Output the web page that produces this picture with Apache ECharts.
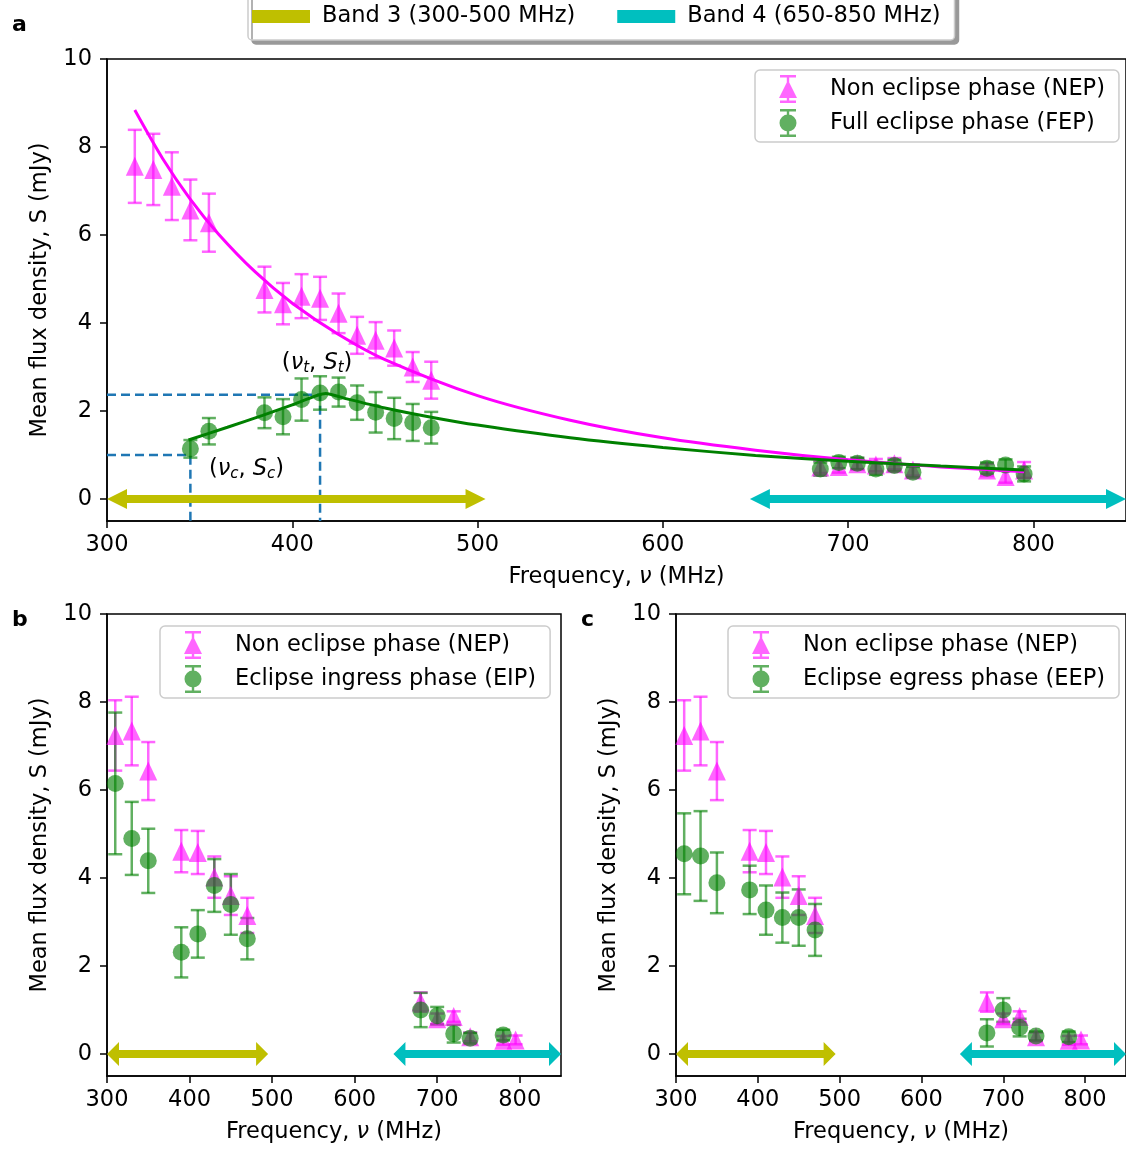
<!DOCTYPE html>
<html>
<head>
<meta charset="utf-8">
<script src="https://cdn.jsdelivr.net/npm/echarts@6/dist/echarts.min.js"></script>
<style>
html,body{margin:0;padding:0;background:#fff;}
#chart{width:1126px;height:1150px;}
</style>
</head>
<body>
<div id="chart"></div>
<script>
// ---------------- DATA ----------------
// Panel a: Non eclipse phase (NEP)
const aNepFreq = [315,325,335,345,355,385,395,405,415,425,435,445,455,465,475,685,695,705,715,725,735,775,785,795];
const aNepFlux = [7.56,7.49,7.11,6.57,6.28,4.76,4.44,4.61,4.56,4.22,3.72,3.61,3.43,3.00,2.70,0.73,0.74,0.80,0.77,0.80,0.66,0.66,0.51,0.66];
const aNepErr  = [0.83,0.81,0.77,0.69,0.66,0.52,0.47,0.50,0.49,0.45,0.42,0.41,0.40,0.34,0.42,0.14,0.14,0.13,0.14,0.13,0.13,0.14,0.14,0.18];
// Panel a: Full eclipse phase (FEP)
const aFepFreq = [345,355,385,395,405,415,425,435,445,455,465,475,685,695,705,715,725,735,775,785,795];
const aFepFlux = [1.14,1.54,1.96,1.87,2.26,2.41,2.43,2.19,1.97,1.83,1.74,1.62,0.68,0.83,0.81,0.68,0.76,0.61,0.70,0.77,0.57];
const aFepErr  = [0.20,0.30,0.35,0.40,0.48,0.38,0.33,0.39,0.46,0.47,0.42,0.36,0.15,0.13,0.13,0.13,0.13,0.12,0.13,0.13,0.17];
// Panel a: fitted spectra
const nepFitFreq = [315,330,345,360,380,400,425,450,500,550,600,650,700,750,795];
const nepFitFlux = [8.84,7.74,6.81,6.03,5.16,4.45,3.74,3.17,2.35,1.79,1.39,1.11,0.89,0.73,0.62];
const fepFitFreq = [344,365,384,400,418,430,450,475,500,550,600,650,700,750,795];
const fepFitFlux = [1.34,1.63,1.90,2.14,2.40,2.27,2.07,1.86,1.68,1.39,1.17,0.99,0.86,0.75,0.66];
// Panel a: turnover and cutoff points [frequency, flux]
const turnoverPoint = [415, 2.37];
const cutoffPoint   = [345, 1.00];

// Panels b, c: Non eclipse phase (NEP), binned
const bcNepFreq = [310,330,350,390,410,430,450,470,680,700,720,740,780,795];
const bcNepFlux = [7.24,7.34,6.43,4.61,4.58,4.02,3.60,3.15,1.18,0.80,0.85,0.39,0.31,0.32];
const bcNepErr  = [0.80,0.78,0.66,0.48,0.49,0.47,0.44,0.40,0.22,0.12,0.12,0.10,0.10,0.10];
// Panel b: Eclipse ingress phase (EIP)
const bEipFreq = [310,330,350,390,410,430,450,470,680,700,720,740,780];
const bEipFlux = [6.15,4.90,4.39,2.31,2.73,3.83,3.40,2.62,1.00,0.87,0.46,0.36,0.43];
const bEipErr  = [1.61,0.83,0.73,0.57,0.54,0.60,0.69,0.47,0.39,0.20,0.20,0.12,0.12];
// Panel c: Eclipse egress phase (EEP)
const cEepFreq = [310,330,350,390,410,430,450,470,680,700,720,740,780];
const cEepFlux = [4.55,4.50,3.89,3.73,3.27,3.10,3.10,2.82,0.48,1.00,0.60,0.41,0.39];
const cEepErr  = [0.92,1.02,0.69,0.55,0.56,0.57,0.64,0.59,0.31,0.27,0.20,0.10,0.12];

// Bands [start MHz, end MHz]
const band3Range = [300, 500];
const band4Range = [647, 850];

// Axis ticks
const xTicks = [300,400,500,600,700,800];
const yTicks = [0,2,4,6,8,10];

// Names
const NEP = 'Non eclipse phase (NEP)';
const FEP = 'Full eclipse phase (FEP)';
const EIP = 'Eclipse ingress phase (EIP)';
const EEP = 'Eclipse egress phase (EEP)';
const BAND3 = 'Band 3 (300-500 MHz)';
const BAND4 = 'Band 4 (650-850 MHz)';

// ---------------- STYLE ----------------
const FONT = 'DejaVu Sans';
const FS = 22.5;
const MAG = 'rgba(255,0,255,0.6)';
const GRN = 'rgba(0,128,0,0.62)';
const YEL = '#bfbf00';
const CYA = '#00bfbf';

const triIcon = 'path://M1,0H17V2.4H10.2V25.6H17V28H1V25.6H7.8V2.4H1Z M9,5L18,23H0Z';
const cirIcon = 'path://M1,0H17V2.4H10.2V25.6H17V28H1V25.6H7.8V2.4H1Z M0.5,14A8.5,8.5 0 1,1 17.5,14A8.5,8.5 0 1,1 0.5,14Z';

function errData(xs, ys, es){ return xs.map((x,i)=>[x, ys[i]-es[i], ys[i]+es[i]]); }
function pts(xs, ys){ return xs.map((x,i)=>[x, ys[i]]); }

function errRender(capHalf, color){
  return function(params, api){
    const x = api.value(0);
    const p1 = api.coord([x, api.value(1)]);
    const p2 = api.coord([x, api.value(2)]);
    const st = {stroke: color, lineWidth: 2.5, fill: null};
    return {type:'group', children:[
      {type:'line', shape:{x1:p1[0],y1:p1[1],x2:p2[0],y2:p2[1]}, style:st},
      {type:'line', shape:{x1:p1[0]-capHalf,y1:p1[1],x2:p1[0]+capHalf,y2:p1[1]}, style:st},
      {type:'line', shape:{x1:p2[0]-capHalf,y1:p2[1],x2:p2[0]+capHalf,y2:p2[1]}, style:st}
    ]};
  };
}

function arrowRender(headLen, headHalf, shaftHalf, overshoot, color){
  return function(params, api){
    const a = api.coord([api.value(0), api.value(2)]);
    const b = api.coord([api.value(1), api.value(2)]);
    const y = a[1];
    const bx = b[0] + overshoot;
    const p = [[a[0],y],[a[0]+headLen,y-headHalf],[a[0]+headLen,y-shaftHalf],[bx-headLen,y-shaftHalf],
               [bx-headLen,y-headHalf],[bx,y],[bx-headLen,y+headHalf],[bx-headLen,y+shaftHalf],
               [a[0]+headLen,y+shaftHalf],[a[0]+headLen,y+headHalf]];
    return {type:'polygon', shape:{points:p}, style:{fill:color}};
  };
}

function errSeries(g, xs, ys, es, color){
  return {type:'custom', xAxisIndex:g, yAxisIndex:g, silent:true, clip:false,
    renderItem: errRender(7, color), data: errData(xs, ys, es), z:2};
}
function ptSeries(g, name, xs, ys, color, tri){
  return {type:'scatter', name:name, xAxisIndex:g, yAxisIndex:g, silent:true,
    symbol: tri ? 'triangle' : 'circle', symbolSize: tri ? [18,19] : 17,
    itemStyle:{color:color, opacity:1}, data: pts(xs, ys), z:3};
}
function arrowSeries(g, name, range, color, hl, hh, over){
  return {type:'custom', name:name, xAxisIndex:g, yAxisIndex:g, silent:true, clip:false,
    itemStyle:{color:color},
    renderItem: arrowRender(hl, hh, 4, over, color), data:[[range[0], range[1], 0]], z:4};
}

function xAxisFor(g){
  return {type:'value', gridIndex:g, min:300, max:850,
    axisLine:{show:true, onZero:false, lineStyle:{color:'#000', width:1.5}},
    axisTick:{show:true, length:7, customValues:xTicks, lineStyle:{color:'#000', width:1.5}},
    axisLabel:{customValues:xTicks, color:'#000', fontSize:FS, fontFamily:FONT, margin:13},
    splitLine:{show:false},
    name:'Frequency, {i|ν} (MHz)', nameLocation:'middle', nameGap:45,
    nameTextStyle:{color:'#000', fontSize:FS, fontFamily:FONT,
      rich:{i:{fontStyle:'italic', fontSize:FS, fontFamily:FONT, color:'#000'}}}
  };
}
function yAxisFor(g){
  return {type:'value', gridIndex:g, min:-0.5, max:10,
    axisLine:{show:true, onZero:false, lineStyle:{color:'#000', width:1.5}},
    axisTick:{show:true, length:7, customValues:yTicks, lineStyle:{color:'#000', width:1.5}},
    axisLabel:{customValues:yTicks, color:'#000', fontSize:FS, fontFamily:FONT, margin:15},
    splitLine:{show:false},
    name:'Mean flux density, S (mJy)', nameLocation:'middle', nameGap:55,
    nameTextStyle:{color:'#000', fontSize:FS, fontFamily:FONT}
  };
}

function legendFor(left, top, names){
  return {orient:'vertical', left:left, top:top, itemWidth:18, itemHeight:28, itemGap:6,
    padding:[5,14,5,24], borderColor:'#cccccc', borderWidth:1.5, borderRadius:5,
    backgroundColor:'rgba(255,255,255,0.85)', selectedMode:false,
    textStyle:{fontSize:FS, fontFamily:FONT, color:'#000', padding:[0,0,0,28]},
    data:[{name:names[0], icon:triIcon, itemStyle:{color:MAG, opacity:1}},
          {name:names[1], icon:cirIcon, itemStyle:{color:GRN, opacity:1}}]};
}

const subRich = {
  p:{fontSize:FS, fontFamily:FONT, color:'#000', lineHeight:26},
  v:{fontSize:FS, fontFamily:FONT, fontStyle:'italic', color:'#000', lineHeight:26},
  s:{fontSize:15, fontFamily:FONT, fontStyle:'italic', color:'#000', verticalAlign:'bottom', lineHeight:15, padding:[13,0,0,0]}
};
const annotPos = {t:[413.4, 3.09], c:[375.3, 0.68]};

const series = [];
// Panel a
series.push(errSeries(0, aNepFreq, aNepFlux, aNepErr, MAG));
series.push(ptSeries(0, NEP, aNepFreq, aNepFlux, MAG, true));
series.push(errSeries(0, aFepFreq, aFepFlux, aFepErr, GRN));
series.push(ptSeries(0, FEP, aFepFreq, aFepFlux, GRN, false));
series.push({type:'line', xAxisIndex:0, yAxisIndex:0, silent:true, smooth:0.3, symbol:'none',
  lineStyle:{color:'#ff00ff', width:3}, data:pts(nepFitFreq, nepFitFlux), z:5});
series.push({type:'line', xAxisIndex:0, yAxisIndex:0, silent:true, smooth:0.2, symbol:'none',
  lineStyle:{color:'#008000', width:3}, data:pts(fepFitFreq, fepFitFlux), z:5});
series.push({type:'line', xAxisIndex:0, yAxisIndex:0, silent:true, symbol:'none',
  lineStyle:{color:'#1f77b4', width:2.5, type:[9,5]},
  data:[[300, turnoverPoint[1]], turnoverPoint, [turnoverPoint[0], -0.5]], z:1});
series.push({type:'line', xAxisIndex:0, yAxisIndex:0, silent:true, symbol:'none',
  lineStyle:{color:'#1f77b4', width:2.5, type:[9,5]},
  data:[[300, cutoffPoint[1]], cutoffPoint, [cutoffPoint[0], -0.5]], z:1});
series.push({type:'scatter', xAxisIndex:0, yAxisIndex:0, silent:true, symbolSize:0,
  itemStyle:{opacity:1},
  label:{show:true, position:'inside', align:'center', verticalAlign:'middle', color:'#000', opacity:1,
    formatter:function(p){ return p.dataIndex===0 ? '{p|(}{v|ν}{s|t}{p|, }{v|S}{s|t}{p|)}' : '{p|(}{v|ν}{s|c}{p|, }{v|S}{s|c}{p|)}'; },
    rich:subRich},
  data:[annotPos.t, annotPos.c], z:6});
series.push(arrowSeries(0, BAND3, band3Range, YEL, 20, 10, 8));
series.push(arrowSeries(0, BAND4, band4Range, CYA, 20, 10, 0));
// Panel b
series.push(errSeries(1, bcNepFreq, bcNepFlux, bcNepErr, MAG));
series.push(ptSeries(1, NEP, bcNepFreq, bcNepFlux, MAG, true));
series.push(errSeries(1, bEipFreq, bEipFlux, bEipErr, GRN));
series.push(ptSeries(1, EIP, bEipFreq, bEipFlux, GRN, false));
series.push(arrowSeries(1, BAND3, band3Range, YEL, 12, 12, -4));
series.push(arrowSeries(1, BAND4, band4Range, CYA, 12, 12, 0));
// Panel c
series.push(errSeries(2, bcNepFreq, bcNepFlux, bcNepErr, MAG));
series.push(ptSeries(2, NEP, bcNepFreq, bcNepFlux, MAG, true));
series.push(errSeries(2, cEepFreq, cEepFlux, cEepErr, GRN));
series.push(ptSeries(2, EEP, cEepFreq, cEepFlux, GRN, false));
series.push(arrowSeries(2, BAND3, band3Range, YEL, 12, 12, -4));
series.push(arrowSeries(2, BAND4, band4Range, CYA, 12, 12, 0));

const gridStyle = {show:true, borderColor:'#000', borderWidth:1.5, backgroundColor:'transparent'};

const option = {
  animation:false,
  backgroundColor:'#fff',
  textStyle:{fontFamily:FONT},
  title:[
    {text:'a', left:7, top:9, textStyle:{fontSize:22, fontWeight:'bold', fontFamily:FONT, color:'#000'}},
    {text:'b', left:7, top:604, textStyle:{fontSize:22, fontWeight:'bold', fontFamily:FONT, color:'#000'}},
    {text:'c', left:576, top:604, textStyle:{fontSize:22, fontWeight:'bold', fontFamily:FONT, color:'#000'}}
  ],
  grid:[
    Object.assign({left:107, top:59, width:1023, height:462}, gridStyle),
    Object.assign({left:107, top:614, width:454, height:462}, gridStyle),
    Object.assign({left:676, top:614, width:454, height:462}, gridStyle)
  ],
  xAxis:[xAxisFor(0), xAxisFor(1), xAxisFor(2)],
  yAxis:[yAxisFor(0), yAxisFor(1), yAxisFor(2)],
  legend:[
    legendFor(755, 70, [NEP, FEP]),
    legendFor(160, 626, [NEP, EIP]),
    legendFor(728, 626, [NEP, EEP]),
    {orient:'horizontal', left:248, top:-11, itemWidth:58, itemHeight:13, itemGap:42,
     padding:[16,14,12,4], backgroundColor:'#fff', borderColor:'#cccccc', borderWidth:1.5, borderRadius:4,
     shadowColor:'#999', shadowOffsetX:4, shadowOffsetY:4, shadowBlur:0, selectedMode:false,
     textStyle:{fontSize:FS, fontFamily:FONT, color:'#000', padding:[0,0,0,7]},
     data:[{name:BAND3, icon:'rect', itemStyle:{color:YEL}}, {name:BAND4, icon:'rect', itemStyle:{color:CYA}}]}
  ],
  series:series
};

const chart = echarts.init(document.getElementById('chart'), null, {renderer:'canvas'});
chart.setOption(option);
</script>
</body>
</html>
